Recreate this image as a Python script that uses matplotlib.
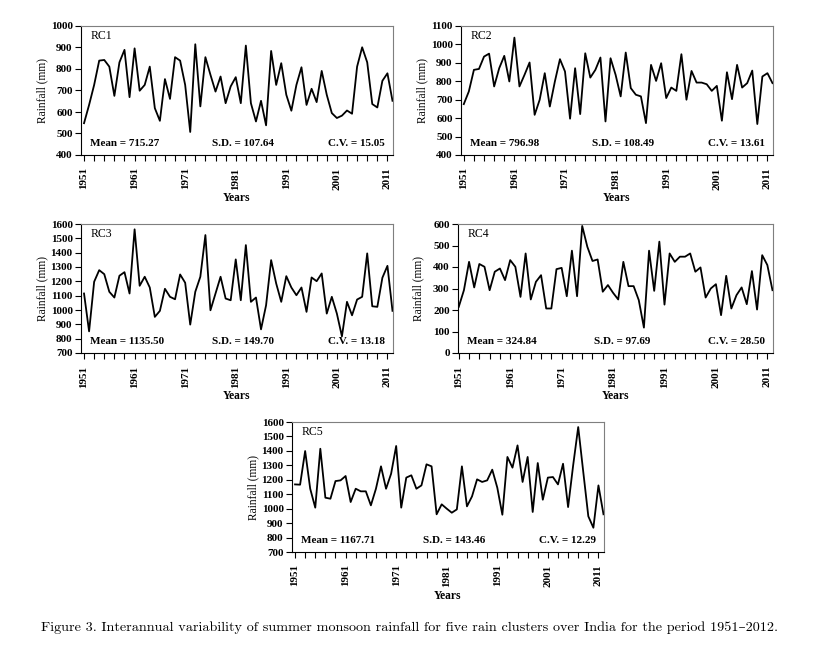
import matplotlib
matplotlib.use('Agg')
import matplotlib.pyplot as plt
import numpy as np

years = list(range(1951, 2013))

rc1 = [548, 633, 726, 839, 842, 811, 675, 831, 889, 669,
       896, 699, 726, 811, 618, 559, 753, 661, 855, 839,
       726, 507, 915, 626, 855, 773, 695, 765, 641, 719,
       762, 641, 909, 641, 556, 652, 538, 884, 726, 827,
       680, 606, 726, 808, 633, 708, 646, 791, 680, 595,
       572, 583, 607, 592, 811, 901, 831, 637, 621, 745,
       780, 652]
rc2 = [676, 745, 862, 867, 934, 950, 772, 871, 938, 799,
       1037, 772, 835, 902, 618, 700, 844, 663, 799, 920,
       853, 597, 871, 622, 952, 820, 862, 929, 582, 925,
       835, 718, 956, 763, 727, 718, 573, 889, 802, 898,
       709, 766, 748, 947, 700, 856, 793, 793, 784, 748,
       775, 586, 849, 703, 889, 766, 790, 858, 568, 826,
       844, 790]
rc3 = [1115, 851, 1197, 1278, 1250, 1127, 1087, 1239, 1264, 1115,
       1563, 1169, 1232, 1157, 952, 994, 1148, 1092, 1075, 1248,
       1190, 898, 1127, 1232, 1523, 998, 1115, 1232, 1080, 1068,
       1353, 1068, 1453, 1057, 1087, 865, 1033, 1348, 1185, 1057,
       1236, 1157, 1103, 1157, 987, 1227, 1201, 1255, 975, 1092,
       975, 816, 1057, 963, 1073, 1092, 1395, 1026, 1022, 1225,
       1308, 994]
rc4 = [215, 292, 424, 305, 414, 401, 292, 378, 393, 339,
       432, 401, 261, 463, 249, 331, 362, 207, 207, 390,
       396, 264, 476, 264, 591, 494, 428, 435, 285, 316,
       280, 249, 424, 311, 311, 246, 118, 476, 289, 518,
       225, 463, 424, 448, 448, 463, 378, 398, 258, 300,
       320, 176, 359, 207, 269, 305, 227, 381, 202, 455,
       409, 292]
rc5 = [1168, 1166, 1399, 1138, 1007, 1415, 1076, 1069, 1191, 1196,
       1226, 1046, 1138, 1120, 1120, 1023, 1138, 1293, 1138, 1242,
       1434, 1007, 1215, 1231, 1138, 1161, 1307, 1293, 961, 1030,
       1000, 972, 995, 1293, 1016, 1085, 1203, 1185, 1196, 1270,
       1145, 958, 1358, 1284, 1438, 1185, 1358, 977, 1316, 1062,
       1215, 1219, 1168, 1311, 1011, 1300, 1565, 1254, 947, 868,
       1161, 961]

names = ['RC1', 'RC2', 'RC3', 'RC4', 'RC5']
means = ['715.27', '796.98', '1135.50', '324.84', '1167.71']
sds = ['107.64', '108.49', '149.70', '97.69', '143.46']
cvs = ['15.05', '13.61', '13.18', '28.50', '12.29']
series = [rc1, rc2, rc3, rc4, rc5]
ylims = [(400, 1000), (400, 1100), (700, 1600), (0, 600), (700, 1600)]
year_labels = ['1951', '1961', '1971', '1981', '1991', '2001', '2011']

W, H = 819, 654
# axes boxes in pixels: left, right, top, bottom
boxes = [(81, 393, 26, 155),
         (461, 773, 26, 155),
         (81, 393, 224, 353),
         (458, 773, 224, 353),
         (292, 604, 422, 552)]
xleft = [1950.4, 1950.45, 1950.4, 1950.85, 1950.4]

serif = ['Liberation Serif', 'DejaVu Serif']
plt.rcParams['font.family'] = serif

fig = plt.figure(figsize=(W / 100, H / 100), dpi=100)

for i in range(5):
    l, r, t, b = boxes[i]
    ax = fig.add_axes([l / W, 1 - b / H, (r - l) / W, (b - t) / H])
    ax.plot(years, series[i], color='black', linewidth=1.3)
    ax.set_xlim(xleft[i], 2012.1)
    lo, hi = ylims[i]
    ax.set_ylim(lo, hi)
    ax.set_yticks(np.arange(lo, hi + 1, 100))
    ax.set_xticks([int(y) for y in year_labels])
    ax.set_xticklabels(year_labels, rotation=90, fontsize=8, fontweight='bold')
    ax.set_xticks(range(1951, 2013, 2), minor=True)
    ax.tick_params(axis='x', which='both', direction='out', length=4, width=0.8, pad=5)
    ax.tick_params(axis='y', direction='out', length=4, width=0.8, labelsize=8, pad=2)
    for lab in ax.get_yticklabels():
        lab.set_fontweight('bold')
    for s in ['top', 'right']:
        ax.spines[s].set_color('#7f7f7f')
        ax.spines[s].set_linewidth(0.8)
    for s in ['left', 'bottom']:
        ax.spines[s].set_linewidth(0.8)

    ax.text(0.03, 0.925, names[i], transform=ax.transAxes, fontsize=8.5,
            ha='left', va='center')
    ax.text(0.03, 0.09, 'Mean = ' + means[i], transform=ax.transAxes,
            fontsize=8, fontweight='bold', ha='left', va='center')
    ax.text(0.52, 0.09, 'S.D. = ' + sds[i], transform=ax.transAxes,
            fontsize=8, fontweight='bold', ha='center', va='center')
    ax.text(0.975, 0.09, 'C.V. = ' + cvs[i], transform=ax.transAxes,
            fontsize=8, fontweight='bold', ha='right', va='center')
    ax.text(-0.125, 0.5, 'Rainfall (mm)', transform=ax.transAxes, fontsize=8.3,
            rotation=90, ha='center', va='center')
    ax.text(0.5, -0.335, 'Years', transform=ax.transAxes, fontsize=8.3,
            fontweight='bold', ha='center', va='center')

fig.text(41 / W, 1 - 628 / H,
         'Figure 3. Interannual variability of summer monsoon rainfall for five rain '
         'clusters over India for the period 1951\u20132012.',
         fontsize=10.2, ha='left', va='center', family=['cmr10', 'DejaVu Serif'])

fig.savefig('out.png', dpi=100)
